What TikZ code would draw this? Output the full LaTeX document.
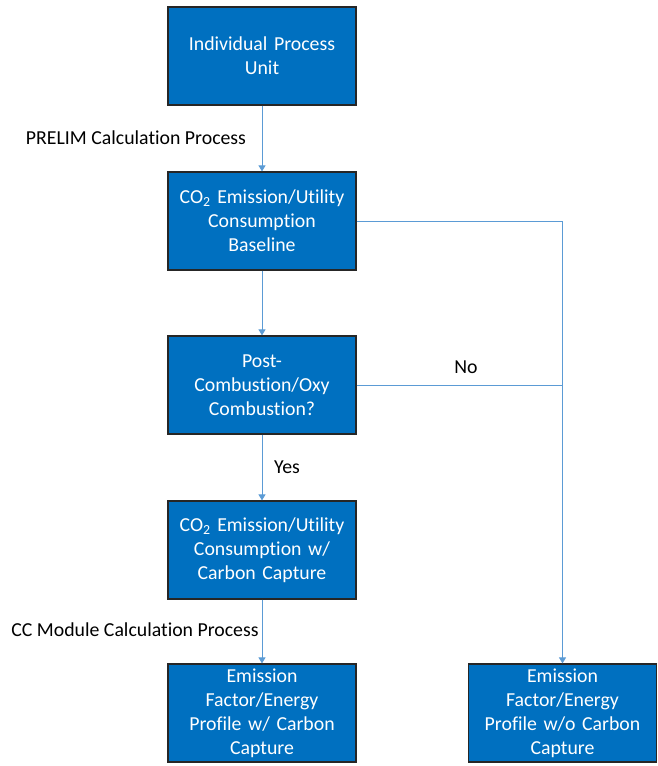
\documentclass[tikz,border=0pt]{standalone}
\usepackage{fontspec}
\setmainfont{Carlito}[Ligatures=NoCommon]
\usetikzlibrary{arrows.meta}
\definecolor{boxblue}{HTML}{0070C0}
\definecolor{lineblue}{HTML}{5B9BD5}
\begin{document}
\begin{tikzpicture}[x=1pt,y=-1pt,
  box/.style={draw=black!85, line width=1.2pt, fill=boxblue, text=white,
    minimum width=188pt, minimum height=98pt, text width=184pt, align=center,
    font=\fontsize{19.8}{24}\selectfont, inner sep=1pt},
  conn/.style={draw=lineblue, line width=0.9pt},
  arr/.style={conn, -{Triangle[width=7pt,length=6pt]}},
  lbl/.style={font=\fontsize{19.8}{24}\selectfont, text=black, inner sep=0pt}]
\useasboundingbox (0,0) rectangle (657,766);
\node[box] (b1) at (262,56) {Individual Process\\Unit};
\node[box] (b2) at (262,221) {CO\textsubscript{2} Emission/Utility\\Consumption\\Baseline};
\node[box] (b3) at (262,385) {Post-\\Combustion/Oxy\\Combustion?};
\node[box] (b4) at (262,550) {CO\textsubscript{2} Emission/Utility\\Consumption w/\\Carbon Capture};
\node[box] (b5) at (262,713) {Emission\\Factor/Energy\\Profile w/ Carbon\\Capture};
\node[box] (b6) at (562.5,713) {Emission\\Factor/Energy\\Profile w/o Carbon\\Capture};
\draw[arr] (b1) -- (b2);
\draw[arr] (b2) -- (b3);
\draw[arr] (b3) -- (b4);
\draw[arr] (b4) -- (b5);
\draw[arr] (b2.east) -| (b6.north);
\draw[conn] (b3.east) -- (b3.east -| b6.north);
\node[lbl] (l1) at (136,138) {PRELIM Calculation Process};
\node[lbl] (l2) at (287,467) {Yes};
\node[lbl] (l3) at (466,367) {No};
\node[lbl] (l4) at (135,630) {CC Module Calculation Process};
\end{tikzpicture}
\end{document}
